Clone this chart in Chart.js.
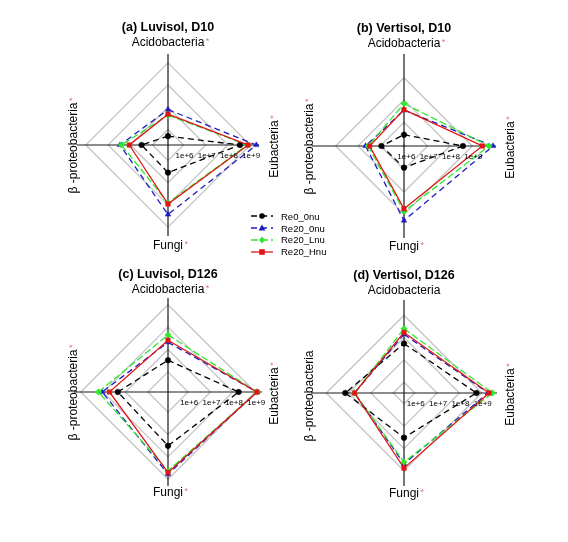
<!DOCTYPE html>
<html>
<head>
<meta charset="utf-8">
<script src="https://cdn.jsdelivr.net/npm/chart.js@4.4.1/dist/chart.umd.min.js"></script>
<style>
  body { margin: 0; background: #fff; }
  #wrap { position: relative; width: 568px; height: 542px; font-family: "Liberation Sans", Arial, sans-serif; }
  #wrap canvas { position: absolute; }
  #legend { position: absolute; left: 251px; top: 210.5px; font-size: 9.5px; color: #000; }
  .row { display: flex; align-items: center; height: 11.8px; }
  .row svg { margin-right: 8px; }
</style>
</head>
<body>
<div id="wrap">
  <canvas id="pa" width="284" height="271" style="left:0;top:0"></canvas>
  <canvas id="pb" width="284" height="271" style="left:284px;top:0"></canvas>
  <canvas id="pc" width="284" height="292" style="left:0;top:250px"></canvas>
  <canvas id="pd" width="284" height="292" style="left:284px;top:250px"></canvas>
  <div id="legend"></div>
</div>
<script>
// axes, clockwise from the top
const axisNames = ['Acidobacteria', 'Eubacteria', 'Fungi', 'β -proteobacteria'];
const seriesNames = ['Re0_0nu', 'Re20_0nu', 'Re20_Lnu', 'Re20_Hnu'];
const tickValues = [1e6, 1e7, 1e8, 1e9];
const tickLabels = ['1e+6', '1e+7', '1e+8', '1e+9'];

// gene copies per series (rows) for each axis (columns)
const luvisolD10 = [
  [5.0e5, 3.5e8, 3.5e6, 3.1e6],
  [7.9e6, 1.9e9, 2.7e8, 2.9e7],
  [4.4e6, 7.6e8, 8.1e7, 2.5e7],
  [4.9e6, 8.1e8, 9.1e7, 1.1e7]
];
const vertisolD10 = [
  [2.8e6, 3.8e8, 8.1e6, 8.9e6],
  [3.5e7, 8.5e9, 1.9e9, 4.6e7],
  [6.9e7, 5.6e9, 7.4e8, 3.5e7],
  [3.7e7, 2.8e9, 5.6e8, 3.0e7]
];
const luvisolD126 = [
  [3.3e6, 1.8e8, 3.2e7, 2.2e7],
  [2.1e7, 1.2e9, 5.9e8, 1.1e8],
  [4.5e7, 1.2e9, 4.2e8, 1.6e8],
  [2.6e7, 1.2e9, 5.0e8, 5.2e7]
];
const vertisolD126 = [
  [5.4e7, 5.8e8, 3.3e7, 1.4e8],
  [1.4e8, 1.9e9, 4.9e8, 5.4e7],
  [2.5e8, 3.0e9, 4.1e8, 5.4e7],
  [1.7e8, 2.1e9, 7.6e8, 5.4e7]
];
// significance marks per axis
const starsD10 = [true, true, true, true];
const starsLuvD126 = [true, true, true, true];
const starsVerD126 = [false, true, true, false];

const seriesColors = ['#000000', '#1c1cc4', '#2ee82e', '#e01616'];
const seriesDash = [[6, 4], [6, 4], [7, 3], []];
const seriesMarkers = ['circle', 'triangle', 'rectRot', 'rect'];
const seriesOrder = [1, 3, 2, 0];

const PPD = 22.3; // pixels per decade
const FONT = '"Liberation Sans", Arial, sans-serif';
const labelDist = [102, 107, 101, 94];
const labelShift = [0, -4, 0, -3];

const panelText = {
  id: 'panelText',
  afterDraw(chart, args, opts) {
    const s = chart.scales.r;
    const ctx = chart.ctx;
    ctx.save();
    ctx.textAlign = 'center';
    ctx.textBaseline = 'middle';
    ctx.fillStyle = '#000';
    ctx.font = 'bold 12.5px ' + FONT;
    ctx.fillText(opts.title, s.xCenter, s.yCenter - 117.5);

    ctx.font = '8px ' + FONT;
    tickValues.forEach((v, i) => {
      const d = s.getDistanceFromCenterForValue(Math.log10(v));
      ctx.fillText(tickLabels[i], s.xCenter + d + 1, s.yCenter + 10.5);
    });

    axisNames.forEach((name, i) => {
      const p = s.getPointPosition(i, labelDist[i]);
      ctx.save();
      ctx.translate(p.x, p.y);
      if (i === 1 || i === 3) ctx.rotate(-Math.PI / 2);
      ctx.font = '12px ' + FONT;
      ctx.fillStyle = '#000';
      ctx.textAlign = 'center';
      ctx.fillText(name, labelShift[i], 0);
      if (opts.stars[i]) {
        const w = ctx.measureText(name).width;
        ctx.font = '9px ' + FONT;
        ctx.fillStyle = '#e07272';
        ctx.textAlign = 'left';
        ctx.fillText('*', labelShift[i] + w / 2 + 1.5, -1.5);
      }
      ctx.restore();
    });
    ctx.restore();
  }
};

function makePanel(id, title, values, stars, minExp, maxExp, cx, cy) {
  const canvas = document.getElementById(id);
  const R = Math.round((maxExp - minExp) * PPD);
  new Chart(canvas, {
    type: 'radar',
    data: {
      labels: axisNames,
      datasets: seriesNames.map((name, i) => ({
        label: name,
        data: values[i].map(v => Math.log10(v)),
        borderColor: seriesColors[i],
        backgroundColor: seriesColors[i],
        borderWidth: 1.3,
        borderDash: seriesDash[i],
        fill: false,
        tension: 0,
        pointStyle: seriesMarkers[i],
        pointRadius: i === 0 ? 2.8 : 3.2,
        pointBorderWidth: 0.5,
        order: seriesOrder[i]
      }))
    },
    options: {
      responsive: false,
      animation: false,
      layout: {
        padding: { left: cx - R, top: cy - R, right: canvas.width - cx - R, bottom: canvas.height - cy - R }
      },
      plugins: {
        legend: { display: false },
        tooltip: { enabled: false },
        panelText: { title: title, stars: stars }
      },
      scales: {
        r: {
          min: minExp,
          max: maxExp,
          startAngle: 0,
          angleLines: { color: '#1a1a1a', lineWidth: 1.2 },
          grid: { color: '#c4c4c4', lineWidth: 1.3 },
          ticks: { display: false },
          pointLabels: { display: false },
          afterBuildTicks: scale => {
            scale.ticks = [{ value: minExp }].concat(tickValues.map(v => ({ value: Math.log10(v) })));
          }
        }
      }
    },
    plugins: [panelText]
  });
}

makePanel('pa', '(a) Luvisol, D10', luvisolD10, starsD10, 5.3, 9.4, 168, 145);
makePanel('pb', '(b) Vertisol, D10', vertisolD10, starsD10, 5.94, 10.06, 120, 146);
makePanel('pc', '(c) Luvisol, D126', luvisolD126, starsLuvD126, 5.1, 9.3, 168, 142);
makePanel('pd', '(d) Vertisol, D126', vertisolD126, starsVerD126, 5.52, 9.68, 120, 143);

// shared legend
const markerSvg = [
  c => `<circle cx="11" cy="6" r="2.8" fill="${c}"/>`,
  c => `<polygon points="11,2.4 14.4,8.4 7.6,8.4" fill="${c}"/>`,
  c => `<polygon points="11,2.6 14,6 11,9.4 8,6" fill="${c}"/>`,
  c => `<rect x="8.2" y="3.2" width="5.6" height="5.6" fill="${c}"/>`
];
document.getElementById('legend').innerHTML = seriesNames.map((name, i) => {
  const dash = seriesDash[i].length ? `stroke-dasharray="${seriesDash[i].join(',')}"` : '';
  return `<div class="row"><svg width="22" height="12">` +
    `<line x1="0" y1="6" x2="22" y2="6" stroke="${seriesColors[i]}" stroke-width="1.3" ${dash}/>` +
    markerSvg[i](seriesColors[i]) + `</svg><span>${name}</span></div>`;
}).join('');
</script>
</body>
</html>
